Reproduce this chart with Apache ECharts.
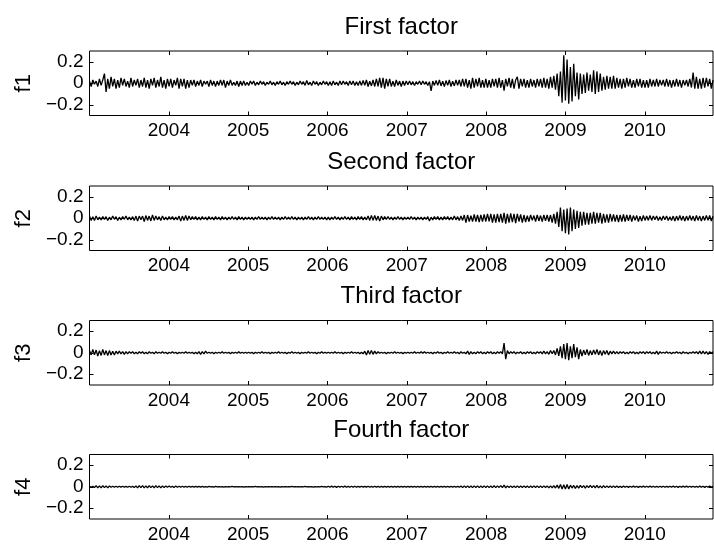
<!DOCTYPE html>
<html>
<head>
<meta charset="utf-8">
<script src="https://cdn.jsdelivr.net/npm/echarts@6/dist/echarts.min.js"></script>
<style>html,body{margin:0;padding:0;background:#fff}#c{width:714px;height:544px}</style>
</head>
<body>
<div id="c"></div>
<script>
const xStart = 2003.0;
const xEnd = 2010.86;
const yearTicks = [2004, 2005, 2006, 2007, 2008, 2009, 2010];
const yTicks = [-0.2, 0, 0.2];
const panelTitles = ['First factor', 'Second factor', 'Third factor', 'Fourth factor'];
const panelNames = ['f1', 'f2', 'f3', 'f4'];

const f1 = [
 .02,-.03,.03,-.01,.02,-.03,.04,-.02,.03,.09,-.08,.04,-.05,.06,-.03,.04,
 -.05,.03,-.04,.05,-.02,.04,-.03,.02,-.04,.05,-.03,.03,-.02,.04,-.04,.03,
 -.03,.05,-.04,.03,-.05,.04,-.02,.05,-.04,.03,-.03,.06,-.04,.03,-.05,.04,
 -.03,.04,-.04,.03,-.02,.05,-.05,.04,-.03,.04,-.05,.03,-.04,.03,-.02,.03,
 -.03,.02,-.02,.03,-.03,.02,-.01,.02,-.03,.03,-.02,.02,-.03,.02,-.02,.03,
 -.02,.03,-.04,.02,-.02,.03,-.02,.01,-.02,.02,-.03,.02,-.02,.02,-.02,.01,
 -.02,.02,-.01,.02,-.02,.01,-.015,.02,-.01,.015,-.02,.01,-.01,.02,-.015,.01,
 -.02,.015,-.01,.02,-.015,.01,-.02,.015,-.01,.02,-.01,.015,-.02,.01,-.015,.02,
 -.01,.015,-.02,.025,-.015,.01,-.02,.02,-.01,.015,-.02,.01,-.015,.02,-.01,.015,
 -.02,.015,-.02,.02,-.015,.01,-.02,.02,-.015,.02,-.01,.015,-.02,.02,-.015,.02,
 -.02,.015,-.02,.02,-.02,.025,-.02,.03,-.03,.02,-.025,.03,-.03,.04,-.03,.05,
 -.04,.05,-.05,.04,-.03,.04,-.03,.02,-.03,.03,-.02,.02,-.03,.02,-.02,.02,
 -.015,.02,-.015,.015,-.02,.015,-.01,.02,-.015,.02,-.01,.015,-.02,.015,-.07,.02,
 -.02,.025,-.02,.03,-.025,.02,-.03,.025,-.02,.03,-.03,.02,-.025,.03,-.02,.03,
 -.03,.04,-.03,.04,-.04,.03,-.05,.05,-.04,.04,-.03,.05,-.04,.03,-.04,.04,
 -.04,.03,-.04,.04,-.03,.04,-.04,.05,-.04,.03,-.07,.04,-.03,.05,-.04,.04,
 -.05,.03,.06,-.05,.04,-.03,.04,-.04,.03,-.04,.04,-.03,.03,-.04,.04,-.03,
 .04,-.04,.05,-.04,.04,-.05,.06,-.04,.07,-.06,.09,-.12,.11,-.18,.26,-.16,
 .22,-.19,.15,-.17,.18,-.12,.1,-.15,.09,-.1,.08,-.09,.1,-.07,.08,-.08,
 .12,-.1,.11,-.08,.09,-.07,.06,-.06,.07,-.05,.06,-.05,.07,-.05,.05,-.04,
 .04,-.05,.04,-.04,.05,-.03,.04,-.04,.03,-.04,.04,-.03,.04,-.04,.03,-.04,
 .03,-.04,.04,-.03,.03,-.03,.04,-.03,.03,-.02,.03,-.03,.04,-.03,.03,-.04,
 .03,-.03,.04,-.03,.03,-.04,.03,-.02,.03,-.03,.04,-.04,.1,-.05,.06,-.05,
 .04,-.05,.05,-.04,.05,-.03,.04,-.05,.03
];
const f2 = [
 .02,-.02,.015,-.02,.02,-.015,.01,-.015,.015,-.01,.015,-.02,.01,-.015,.02,-.01,
 .015,-.02,.01,-.015,.015,-.01,.02,-.015,.01,-.015,.015,-.02,.02,-.025,.02,-.015,
 .02,-.03,.025,-.02,.02,-.025,.03,-.02,.02,-.015,.015,-.02,.02,-.015,.01,-.015,
 .015,-.01,.015,-.015,.01,-.015,.02,-.025,.02,-.02,.025,-.02,.02,-.015,.015,-.01,
 .015,-.015,.01,-.015,.015,-.01,.01,-.015,.015,-.01,.01,-.015,.015,-.01,.01,-.015,
 .015,-.01,.01,-.015,.01,-.01,.015,-.01,.01,-.015,.015,-.01,.01,-.015,.01,-.01,
 .01,-.01,.01,-.015,.01,-.01,.015,-.01,.01,-.01,.01,-.015,.01,-.01,.015,-.01,
 .01,-.01,.01,-.015,.01,-.01,.015,-.01,.01,-.01,.015,-.01,.01,-.015,.01,-.01,
 .01,-.015,.01,-.01,.015,-.01,.01,-.015,.01,-.01,.015,-.01,.01,-.01,.01,-.015,
 .01,-.015,.01,-.01,.015,-.01,.01,-.015,.01,-.01,.015,-.01,.01,-.015,.015,-.01,
 .01,-.015,.015,-.01,.015,-.015,.01,-.015,.02,-.02,.025,-.02,.025,-.02,.02,-.025,
 .02,-.015,.015,-.01,.015,-.01,.01,-.015,.01,-.01,.015,-.01,.01,-.015,.01,-.01,
 .01,-.01,.015,-.01,.01,-.015,.01,-.01,.01,-.015,.01,-.01,.015,-.025,.01,-.015,
 .015,-.01,.015,-.015,.01,-.015,.015,-.01,.015,-.015,.01,-.015,.02,-.015,.015,-.02,
 .02,-.02,.03,-.04,.03,-.03,.025,-.03,.035,-.03,.03,-.035,.03,-.03,.035,-.03,
 .04,-.03,.04,-.04,.035,-.04,.04,-.035,.04,-.04,.05,-.05,.04,-.04,.045,-.035,
 .04,-.045,.04,-.03,.035,-.04,.03,-.035,.025,-.03,.03,-.02,.025,-.03,.03,-.025,
 .025,-.03,.03,-.025,.03,-.03,.03,-.04,.04,-.05,.06,-.08,.1,-.12,.08,-.14,
 .09,-.15,.1,-.12,.08,-.1,.07,-.09,.06,-.07,.06,-.06,.05,-.06,.05,-.05,
 .06,-.05,.05,-.04,.05,-.05,.04,-.04,.035,-.04,.04,-.03,.035,-.03,.03,-.035,
 .03,-.03,.035,-.03,.03,-.025,.03,-.03,.025,-.02,.025,-.03,.02,-.025,.025,-.02,
 .02,-.02,.025,-.02,.02,-.015,.02,-.02,.015,-.02,.02,-.015,.02,-.02,.015,-.02,
 .02,-.025,.02,-.02,.025,-.02,.02,-.025,.02,-.02,.025,-.02,.02,-.025,.025,-.02,
 .02,-.025,.02,-.02,.025,-.02,.025,-.025,.02
];
const f3 = [
 .02,-.02,.03,-.02,.025,-.03,.02,-.025,.03,-.02,.02,-.025,.02,-.02,.015,-.02,
 .015,-.01,.015,-.01,.01,-.015,.01,-.01,.01,-.005,.01,-.01,.005,-.01,.01,-.005,
 .01,-.01,.005,-.01,.01,-.005,.005,-.01,.01,-.005,.005,-.005,.01,-.005,.005,-.01,
 .005,-.005,.01,-.005,.005,-.01,.005,-.005,.005,-.005,.01,-.005,.005,-.005,.005,-.01,
 .005,-.01,.01,-.015,.01,-.01,.015,-.005,.005,-.005,.005,-.01,.005,-.005,.005,-.005,
 .01,-.005,.005,-.005,.005,-.01,.005,-.005,.005,-.005,.01,-.005,.005,-.005,.005,-.005,
 .005,-.005,.005,-.01,.005,-.005,.005,-.005,.01,-.005,.005,-.005,.005,-.01,.005,-.005,
 .005,-.005,.01,-.005,.005,-.005,.005,-.01,.005,-.005,.01,-.005,.005,-.005,.005,-.01,
 .005,-.005,.005,-.005,.01,-.005,.005,-.005,.005,-.01,.005,-.005,.01,-.005,.005,-.005,
 .005,-.005,.005,-.005,.01,-.005,.005,-.005,.005,-.01,.005,-.005,.005,-.005,.01,-.005,
 .005,-.005,.005,-.01,.005,-.01,.015,-.02,.02,-.015,.02,-.015,.015,-.01,.01,-.005,
 .005,-.005,.005,-.01,.005,-.005,.005,-.005,.01,-.005,.005,-.005,.005,-.01,.005,-.005,
 .005,-.005,.005,-.005,.01,-.005,.005,-.005,.01,-.005,.01,-.005,.005,-.005,.005,-.01,
 .005,-.005,.01,-.005,.005,-.01,.005,-.005,.01,-.005,.005,-.005,.01,-.005,.005,-.01,
 .01,-.005,.005,-.01,.015,-.015,.01,-.01,.005,-.01,.01,-.005,.01,-.01,.005,-.01,
 .01,-.005,.01,-.01,.005,-.01,.01,-.005,.01,-.01,.09,-.06,.02,-.01,.01,-.005,
 .01,-.01,.005,-.005,.01,-.01,.005,-.01,.01,-.005,.01,-.01,.005,-.01,.01,-.005,
 .01,-.01,.015,-.01,.01,-.015,.02,-.01,.02,-.02,.04,-.03,.06,-.05,.08,-.06,
 .09,-.07,.06,-.05,.08,-.04,.05,-.06,.03,-.03,.025,-.02,.03,-.025,.02,-.02,
 .025,-.015,.03,-.02,.02,-.025,.02,-.015,.02,-.02,.015,-.01,.015,-.01,.01,-.01,
 .01,-.005,.01,-.01,.005,-.01,.01,-.005,.01,-.01,.005,-.01,.01,-.005,.01,-.01,
 .01,-.005,.01,-.01,.005,-.01,.015,-.015,.01,-.005,.005,-.005,.01,-.005,.005,-.01,
 .005,-.005,.01,-.005,.005,-.01,.01,-.005,.005,-.01,.005,-.005,.01,-.005,.01,-.01,
 .015,-.01,.015,-.01,.01,-.015,.01,-.005,.01
];
const f4 = [
 .005,-.005,.005,-.008,.01,-.01,.008,-.01,.01,-.008,.008,-.01,.008,-.005,.005,-.005,
 .005,-.005,.005,-.004,.005,-.005,.004,-.005,.005,-.005,.005,-.008,.008,-.01,.01,-.008,
 .01,-.01,.008,-.01,.01,-.008,.008,-.01,.01,-.008,.008,-.01,.008,-.008,.008,-.005,
 .008,-.005,.005,-.008,.008,-.005,.005,-.005,.005,-.003,.003,-.005,.005,-.003,.003,-.003,
 .004,-.003,.003,-.004,.003,-.003,.002,-.003,.003,-.002,.002,-.003,.003,-.002,.002,-.002,
 .002,-.003,.002,-.002,.002,-.002,.003,-.002,.002,-.002,.002,-.002,.002,-.003,.002,-.002,
 .002,-.002,.002,-.002,.003,-.002,.002,-.002,.002,-.003,.002,-.002,.002,-.002,.002,-.002,
 .002,-.002,.002,-.003,.002,-.002,.002,-.002,.002,-.002,.003,-.002,.002,-.002,.002,-.002,
 .002,-.002,.003,-.002,.002,-.002,.002,-.003,.002,-.002,.002,-.002,.003,-.002,.002,-.003,
 .005,-.005,.006,-.005,.005,-.006,.005,-.004,.005,-.005,.006,-.005,.004,-.005,.005,-.004,
 .005,-.005,.004,-.004,.005,-.004,.004,-.004,.005,-.005,.004,-.005,.005,-.004,.004,-.005,
 .004,-.004,.003,-.004,.004,-.003,.003,-.004,.003,-.003,.004,-.003,.003,-.004,.003,-.003,
 .003,-.003,.004,-.003,.003,-.003,.004,-.003,.003,-.004,.003,-.003,.004,-.003,.003,-.003,
 .004,-.003,.003,-.004,.003,-.003,.004,-.003,.003,-.004,.003,-.003,.004,-.003,.003,-.004,
 .006,-.008,.008,-.006,.008,-.008,.006,-.008,.008,-.006,.008,-.008,.006,-.008,.008,-.006,
 .008,-.008,.006,-.008,.01,-.008,.008,-.006,.01,-.008,.015,-.01,.008,-.006,.008,-.006,
 .006,-.008,.008,-.006,.006,-.006,.008,-.006,.006,-.008,.006,-.006,.008,-.006,.008,-.008,
 .006,-.008,.008,-.006,.008,-.01,.008,-.01,.01,-.012,.015,-.015,.02,-.02,.018,-.02,
 .02,-.02,.015,-.012,.012,-.015,.01,-.012,.012,-.008,.01,-.012,.01,-.008,.012,-.008,
 .01,-.01,.012,-.01,.008,-.01,.01,-.008,.008,-.006,.006,-.006,.008,-.006,.006,-.006,
 .005,-.006,.006,-.005,.005,-.006,.005,-.005,.006,-.005,.005,-.006,.005,-.005,.006,-.005,
 .005,-.005,.006,-.004,.005,-.005,.004,-.005,.005,-.004,.005,-.005,.004,-.004,.005,-.004,
 .006,-.005,.005,-.006,.005,-.005,.006,-.005,.006,-.005,.005,-.004,.005,-.005,.004,-.005,
 .006,-.005,.005,-.006,.005,-.005,.006,-.005,.005
];
const seriesValues = [f1, f2, f3, f4];

// ---- layout ----
const FONT = 'Liberation Sans, Arial, Helvetica, sans-serif';
const gridLeft = 89.5, gridRight = 1, gridH = 64.5;
const gridTops = [51, 186, 320.5, 454.5];
const plotCenterX = (gridLeft + (714 - gridRight)) / 2;

function toPoints(vals) {
  const n = vals.length;
  const dx = (xEnd - xStart) / (n - 1);
  return vals.map((v, i) => [xStart + i * dx, v]);
}
function yFmt(v) {
  if (Math.abs(v) < 1e-9) return '0';
  return (v < 0 ? '\u2212' : '') + Math.abs(v).toFixed(1);
}

const grids = [], xAxes = [], yAxes = [], series = [], graphics = [];
for (let k = 0; k < 4; k++) {
  grids.push({left: gridLeft, right: gridRight, top: gridTops[k], height: gridH,
    show: true, borderColor: '#000', borderWidth: 1, backgroundColor: '#fff'});
  const tick = {show: true, inside: true, length: 4, customValues: yearTicks, lineStyle: {color: '#000', width: 1}};
  xAxes.push({gridIndex: k, type: 'value', position: 'bottom', min: xStart, max: xEnd,
    axisLine: {show: false, onZero: false}, splitLine: {show: false}, axisTick: tick,
    axisLabel: {customValues: yearTicks, color: '#000', fontSize: 19, fontFamily: FONT, margin: 6,
      formatter: v => String(Math.round(v))}});
  xAxes.push({gridIndex: k, type: 'value', position: 'top', min: xStart, max: xEnd,
    axisLine: {show: false, onZero: false}, splitLine: {show: false}, axisTick: tick, axisLabel: {show: false}});
  const ytick = {show: true, inside: true, length: 4, customValues: yTicks, lineStyle: {color: '#000', width: 1}};
  yAxes.push({gridIndex: k, type: 'value', position: 'left', min: -0.3, max: 0.3,
    axisLine: {show: false, onZero: false}, splitLine: {show: false}, axisTick: ytick,
    axisLabel: {customValues: yTicks, color: '#000', fontSize: 19, fontFamily: FONT, margin: 6, formatter: yFmt},
    name: panelNames[k], nameLocation: 'middle', nameGap: 54, nameRotate: 90,
    nameTextStyle: {color: '#000', fontSize: 22, fontFamily: FONT}});
  yAxes.push({gridIndex: k, type: 'value', position: 'right', min: -0.3, max: 0.3,
    axisLine: {show: false, onZero: false}, splitLine: {show: false}, axisTick: ytick, axisLabel: {show: false}});

  // one polyline per panel, every vertex mapped through the panel's axes (api.coord)
  const pts = toPoints(seriesValues[k]);
  series.push({type: 'custom', xAxisIndex: 2 * k, yAxisIndex: 2 * k, silent: true, clip: true, z: 3,
    data: [[xStart, 0]],
    renderItem: function (params, api) {
      const points = pts.map(p => api.coord(p));
      return {type: 'polyline', shape: {points: points},
        style: {stroke: '#000', fill: null, lineWidth: 1.3, lineJoin: 'bevel', lineCap: 'butt'}};
    }});
  graphics.push({type: 'text', x: plotCenterX, y: gridTops[k] - 24, silent: true,
    style: {text: panelTitles[k], fill: '#000', fontSize: 24, fontFamily: FONT,
      textAlign: 'center', textVerticalAlign: 'middle'}});
}

const chart = echarts.init(document.getElementById('c'), null, {renderer: 'canvas'});
chart.setOption({
  animation: false,
  backgroundColor: '#fff',
  grid: grids, xAxis: xAxes, yAxis: yAxes, series: series, graphic: graphics
});
</script>
</body>
</html>
